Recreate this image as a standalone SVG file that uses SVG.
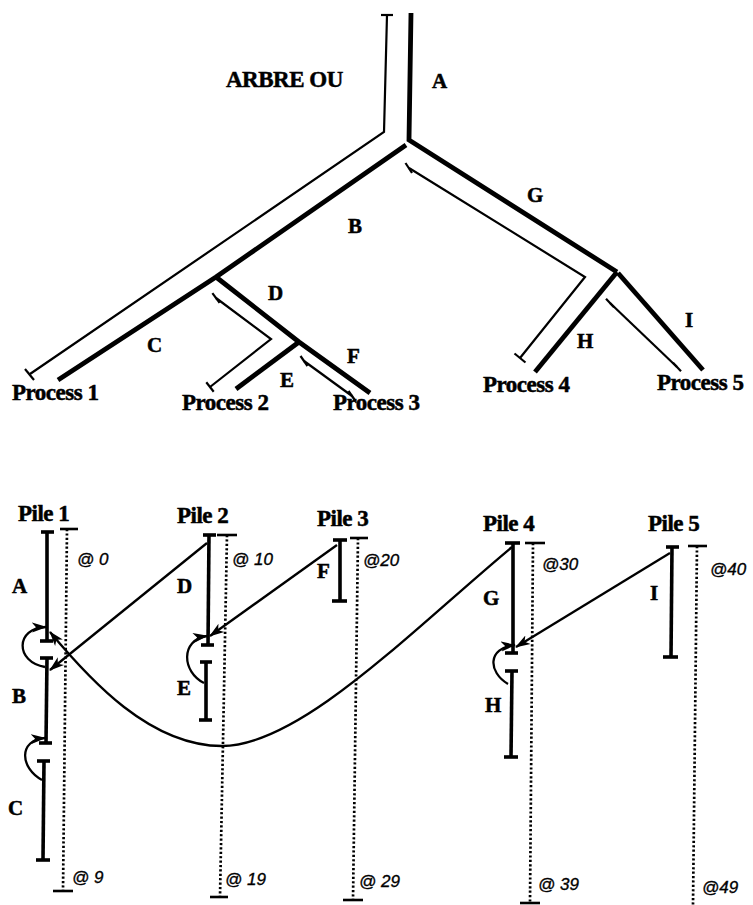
<svg xmlns="http://www.w3.org/2000/svg" width="753" height="905" viewBox="0 0 753 905">
<style>
.bg{fill:#fff}
.thick{fill:none;stroke:#000;stroke-width:4.8;stroke-linejoin:miter}
.thin{fill:none;stroke:#000;stroke-width:2.2}
.seg{fill:none;stroke:#000;stroke-width:3.6}
.bar{fill:none;stroke:#000;stroke-width:3.6}
.dot{fill:none;stroke:#000;stroke-width:2.7;stroke-dasharray:2.2 2.2}
.dbar{fill:none;stroke:#000;stroke-width:2.6}
.arr{fill:none;stroke:#000;stroke-width:2.3;marker-end:url(#ah)}
.lb{font-family:"Liberation Serif","Times New Roman",serif;font-weight:bold;font-size:21px;fill:#000;stroke:#000;stroke-width:0.5}
.pr{font-family:"Liberation Serif","Times New Roman",serif;font-weight:bold;font-size:23px;fill:#000;stroke:#000;stroke-width:0.5;letter-spacing:-0.5px}
.ad{font-family:"Liberation Sans",Arial,sans-serif;font-style:italic;font-size:17px;fill:#000;stroke:#000;stroke-width:0.35}
</style>
<defs>
<marker id="ah" markerUnits="userSpaceOnUse" markerWidth="16" markerHeight="12" viewBox="0 0 16 12" refX="14" refY="6" orient="auto">
<path d="M0,1 L15,6 L0,11 L4,6 z" fill="#000"/>
</marker>
</defs>
<rect class="bg" x="0" y="0" width="753" height="905"/>

<g id="tree">
  <text class="pr" x="226" y="87" font-size="24">ARBRE OU</text>
  <g id="branch-A">
    <polyline class="thick" points="411,13 409,140 617,272"/>
    <text class="lb" x="432" y="88">A</text>
  </g>
  <g id="branch-B">
    <polyline class="thick" points="406,145 216,277 58,380"/>
    <text class="lb" x="348" y="233">B</text>
    <text class="lb" x="147" y="352">C</text>
  </g>
  <g id="branch-D">
    <polyline class="thick" points="216,277 299,342 370,393"/>
    <line class="thick" x1="299" y1="342" x2="236" y2="389"/>
    <text class="lb" x="268" y="300">D</text>
    <text class="lb" x="280" y="387">E</text>
    <text class="lb" x="347" y="363">F</text>
  </g>
  <g id="branch-G">
    <line class="thick" x1="617" y1="272" x2="535" y2="372"/>
    <line class="thick" x1="618" y1="273" x2="703" y2="370"/>
    <text class="lb" x="527" y="202">G</text>
    <text class="lb" x="577" y="348">H</text>
    <text class="lb" x="685" y="327">I</text>
  </g>
  <g id="paths-thin">
    <polyline class="thin" points="387,15 384,132 30,374"/>
    <line class="thin" x1="381" y1="15" x2="393" y2="15"/>
    <line class="thin" x1="25" y1="369" x2="34" y2="380"/>
    <polyline class="thin" points="409,168 585,277 520,358"/>
    <line class="thin" x1="405.5" y1="163" x2="412" y2="173"/>
    <line class="thin" x1="514.5" y1="353.5" x2="525.5" y2="362.5"/>
    <polyline class="thin" points="216,298 271,339 210,387"/>
    <line class="thin" x1="212.4" y1="293.2" x2="219.6" y2="302.8"/>
    <line class="thin" x1="206.3" y1="382.3" x2="213.7" y2="391.7"/>
    <line class="thin" x1="304" y1="361" x2="352" y2="396"/>
    <line class="thin" x1="300.5" y1="356" x2="307.5" y2="366"/>
    <line class="thin" x1="348.5" y1="391" x2="355.5" y2="401"/>
    <line class="thin" x1="610" y1="303" x2="677" y2="367"/>
    <line class="thin" x1="606" y1="298.7" x2="614" y2="307.3"/>
    <line class="thin" x1="673" y1="362.7" x2="681" y2="371.3"/>
  </g>
  <g id="process-labels">
    <text class="pr" x="12" y="400">Process 1</text>
    <text class="pr" x="182" y="410">Process 2</text>
    <text class="pr" x="333" y="410">Process 3</text>
    <text class="pr" x="483" y="392">Process 4</text>
    <text class="pr" x="657" y="390">Process 5</text>
  </g>
</g>

<g id="pile1">
  <text class="pr" x="18" y="521">Pile 1</text>
  <line class="seg" x1="47" y1="532" x2="47" y2="641"/>
  <line class="bar" x1="41" y1="532" x2="54" y2="532"/>
  <line class="bar" x1="40" y1="641" x2="53" y2="641"/>
  <line class="seg" x1="47" y1="658" x2="46" y2="743"/>
  <line class="bar" x1="40" y1="658" x2="53" y2="658"/>
  <line class="bar" x1="39" y1="743" x2="52" y2="743"/>
  <line class="seg" x1="44" y1="761" x2="43" y2="860"/>
  <line class="bar" x1="37" y1="761" x2="50" y2="761"/>
  <line class="bar" x1="36" y1="860" x2="50" y2="860"/>
  <polyline class="dot" points="67,529 63,891"/>
  <line class="dbar" x1="60" y1="529" x2="78" y2="529"/>
  <line class="dbar" x1="53" y1="891" x2="73" y2="891"/>
  <text class="lb" x="12" y="593">A</text>
  <text class="lb" x="12" y="703">B</text>
  <text class="lb" x="8" y="815">C</text>
  <text class="ad" x="77" y="565">@ 0</text>
  <text class="ad" x="72" y="883">@ 9</text>
</g>

<g id="pile2">
  <text class="pr" x="177" y="523">Pile 2</text>
  <line class="seg" x1="209" y1="535" x2="208" y2="645"/>
  <line class="bar" x1="203" y1="535" x2="216" y2="535"/>
  <line class="bar" x1="201" y1="645" x2="214" y2="645"/>
  <line class="seg" x1="206" y1="662" x2="206" y2="720"/>
  <line class="bar" x1="200" y1="662" x2="212" y2="662"/>
  <line class="bar" x1="199" y1="720" x2="212" y2="720"/>
  <polyline class="dot" points="227,535 220,897"/>
  <line class="dbar" x1="217" y1="535" x2="237" y2="535"/>
  <line class="dbar" x1="210" y1="897" x2="228" y2="897"/>
  <text class="lb" x="177" y="593">D</text>
  <text class="lb" x="177" y="695">E</text>
  <text class="ad" x="232" y="565">@ 10</text>
  <text class="ad" x="225" y="885">@ 19</text>
</g>

<g id="pile3">
  <text class="pr" x="317" y="526">Pile 3</text>
  <line class="seg" x1="340" y1="540" x2="340" y2="601"/>
  <line class="bar" x1="333" y1="540" x2="347" y2="540"/>
  <line class="bar" x1="332" y1="601" x2="347" y2="601"/>
  <polyline class="dot" points="358,538 353,900"/>
  <line class="dbar" x1="350" y1="538" x2="368" y2="538"/>
  <line class="dbar" x1="343" y1="900" x2="363" y2="900"/>
  <text class="lb" x="317" y="578">F</text>
  <text class="ad" x="363" y="566">@20</text>
  <text class="ad" x="359" y="887">@ 29</text>
</g>

<g id="pile4">
  <text class="pr" x="483" y="531">Pile 4</text>
  <line class="seg" x1="513" y1="543" x2="513" y2="653"/>
  <line class="bar" x1="505" y1="543" x2="520" y2="543"/>
  <line class="bar" x1="505" y1="653" x2="518" y2="653"/>
  <line class="seg" x1="512" y1="671" x2="511" y2="757"/>
  <line class="bar" x1="505" y1="671" x2="518" y2="671"/>
  <line class="bar" x1="504" y1="757" x2="518" y2="757"/>
  <polyline class="dot" points="533,543 530,903"/>
  <line class="dbar" x1="525" y1="543" x2="545" y2="543"/>
  <line class="dbar" x1="520" y1="903" x2="540" y2="903"/>
  <text class="lb" x="483" y="605">G</text>
  <text class="lb" x="485" y="712">H</text>
  <text class="ad" x="542" y="570">@30</text>
  <text class="ad" x="538" y="890">@ 39</text>
</g>

<g id="pile5">
  <text class="pr" x="648" y="531">Pile 5</text>
  <line class="seg" x1="672" y1="547" x2="671" y2="657"/>
  <line class="bar" x1="666" y1="547" x2="679" y2="547"/>
  <line class="bar" x1="663" y1="657" x2="678" y2="657"/>
  <polyline class="dot" points="697,546 693,905"/>
  <line class="dbar" x1="688" y1="546" x2="707" y2="546"/>
  <text class="lb" x="650" y="600">I</text>
  <text class="ad" x="710" y="575">@40</text>
  <text class="ad" x="702" y="893">@49</text>
</g>

<g id="connectors">
  <path class="arr" d="M45,667 C15,662 15,628 46,627"/>
  <path class="arr" d="M42,780 C20,768 18,740 45,738"/>
  <path class="arr" d="M204,683 C182,672 180,640 207,636"/>
  <path class="arr" d="M508,684 C488,672 487,648 515,645"/>
  <path class="arr" d="M207,543 L50,670"/>
  <path class="arr" d="M337,545 L210,636"/>
  <path class="arr" d="M670,553 L516,647"/>
  <path class="arr" d="M512,547 C410,632 300,746 222,746 C150,746 90,680 50,632"/>
</g>
</svg>
